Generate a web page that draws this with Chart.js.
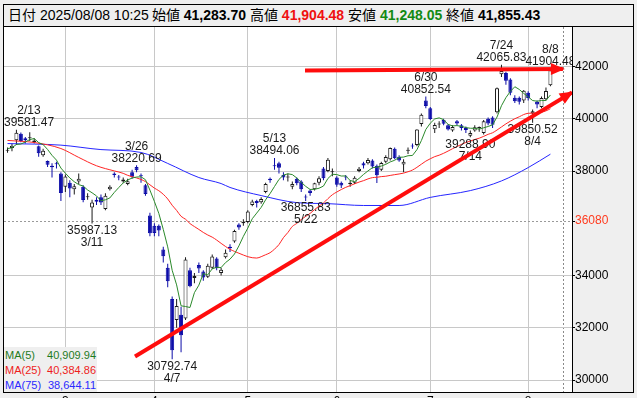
<!DOCTYPE html>
<html lang="ja">
<head>
<meta charset="utf-8">
<title>日経平均 日足</title>
<script src="https://cdn.jsdelivr.net/npm/chart.js@4.4.1/dist/chart.umd.min.js"></script>
<style>
  html, body { margin: 0; padding: 0; background: #efefef; }
  #wrap { position: relative; width: 637px; height: 398px; overflow: hidden; }
  #chart { position: absolute; left: 0; top: 0; }
  #head {
    position: absolute; left: 3px; top: 4px; width: 631px; height: 23px;
    box-sizing: border-box; border: 1px solid #000; background: #efefef;
    font: 14px "Liberation Sans", Arial, "Noto Sans CJK JP", sans-serif;
    line-height: 21px; padding-left: 4px; white-space: nowrap; color: #000;
  }
  #head .gap { display: inline-block; width: 3px; }
  #head .hi { color: #f01010; }
  #head .lo { color: #138a13; }
  #legend {
    position: absolute; left: 4px; top: 347px; width: 93px; height: 45px;
    background: #efefef; font: 11px "Liberation Sans", Arial, sans-serif;
  }
  #legend div { display: flex; justify-content: space-between; height: 14px; line-height: 14px; padding: 1px 1px 0; }
</style>
</head>
<body>
<div id="wrap">
  <canvas id="chart" width="637" height="398"></canvas>
  <div id="head"></div>
  <div id="legend"></div>
</div>
<script>
// ---------------------------------------------------------------------------
// Nikkei 225 daily candles, 2025/02/10 - 2025/08/08, with MA(5/25/75)
// values
// ---------------------------------------------------------------------------

const stamp = '2025/08/08 10:25';

const dates = [
  '2/10','2/12','2/13','2/14','2/17','2/18','2/19','2/20','2/21','2/25','2/26','2/27','2/28',
  '3/3','3/4','3/5','3/6','3/7','3/10','3/11','3/12','3/13','3/14','3/17','3/18','3/19','3/21','3/24','3/25','3/26','3/27','3/28','3/31',
  '4/1','4/2','4/3','4/4','4/7','4/8','4/9','4/10','4/11','4/14','4/15','4/16','4/17','4/18','4/21','4/22','4/23','4/24','4/25','4/28','4/30',
  '5/1','5/2','5/7','5/8','5/9','5/12','5/13','5/14','5/15','5/16','5/19','5/20','5/21','5/22','5/23','5/26','5/27','5/28','5/29','5/30',
  '6/2','6/3','6/4','6/5','6/6','6/9','6/10','6/11','6/12','6/13','6/16','6/17','6/18','6/19','6/20','6/23','6/24','6/25','6/26','6/27','6/30',
  '7/1','7/2','7/3','7/4','7/7','7/8','7/9','7/10','7/11','7/14','7/15','7/16','7/17','7/18','7/22','7/23','7/24','7/25','7/28','7/29','7/30','7/31',
  '8/1','8/4','8/5','8/6','8/7','8/8'
];

const opens = [
  38780, 38880, 39180, 39430, 39250, 39250, 39100, 38950, 38600, 38380, 38200, 38280, 37900,
  37400, 37550, 37300, 37600, 37400, 37000, 36600, 36900, 37000, 36550, 37300, 37900, 37760, 37600, 37500, 37950, 38150, 37800, 37450, 36300,
  35900, 35900, 35000, 34300, 33100, 32300, 32500, 32350, 34200, 33900, 34400, 34150, 33950, 34300, 34650, 34100, 34700, 35100, 35300, 35950, 36000,
  36050, 36700, 36850, 36800, 37200, 37700, 38200, 38300, 37850, 37750, 37400, 37700, 37600, 37000, 37250, 37300, 37550, 38100, 38000, 37950,
  37750, 37550, 37750, 37500, 37550, 38000, 38300, 38300, 38400, 38200, 38050, 38350, 38450, 38850, 38550, 38250, 38780, 38950, 39000, 39800, 40700,
  40400, 39600, 39780, 39950, 39750, 39550, 39900, 39750, 39650, 39350, 39550, 39650, 39450, 40000, 40050, 40250, 41700, 41750, 41500, 40800, 40800, 40700,
  41000, 40200, 40650, 40450, 40750, 41283.70
];

const highs = [
  38900, 39050, 39581.47, 39470, 39300, 39480, 39250, 38980, 38850, 38400, 38300, 38350, 37950,
  37870, 37650, 37500, 37900, 37450, 37150, 36900, 37000, 37100, 37150, 37450, 37950, 37850, 37750, 37700, 38050, 38220.69, 37900, 37500, 36400,
  36000, 35950, 35100, 34450, 33200, 33100, 32800, 34700, 34300, 34100, 34500, 34200, 34450, 34800, 34700, 34300, 35000, 35200, 35750, 36000, 36150,
  36500, 36900, 36900, 37000, 37550, 37750, 38494.06, 38350, 37950, 37900, 37600, 37750, 37650, 37100, 37300, 37550, 37800, 38150, 38500, 38100,
  37800, 37600, 37850, 37650, 37800, 38150, 38350, 38500, 38450, 38250, 38350, 38600, 38900, 38900, 38600, 38450, 38900, 39050, 39600, 40200, 40852.54,
  40450, 39850, 39900, 40000, 39800, 39750, 39950, 39800, 39700, 39550, 39750, 39700, 39950, 40050, 40100, 41200, 42065.83, 41800, 41550, 40900, 40850, 41100,
  41050, 40350, 40700, 40850, 41200, 41904.48
];

const lows = [
  38700, 38760, 39000, 39100, 39050, 39150, 39050, 38550, 38550, 38150, 37750, 38100, 36856,
  37200, 37000, 37100, 37500, 36800, 36900, 35987.13, 36700, 36700, 36500, 37250, 37750, 37650, 37550, 37450, 37700, 37950, 37550, 37050, 35500,
  35500, 35500, 34500, 33550, 30792.74, 32000, 31064, 32300, 33550, 33700, 34100, 33800, 33900, 34250, 34200, 34000, 34650, 34900, 35250, 35750, 35900,
  36000, 36650, 36600, 36750, 37150, 37550, 38050, 37900, 37650, 37600, 37300, 37450, 37200, 36855.83, 37050, 37250, 37450, 37650, 37950, 37800,
  37400, 37350, 37650, 37400, 37500, 37950, 38100, 38250, 38100, 37540, 38000, 38300, 38400, 38450, 38350, 37950, 38650, 38850, 38950, 39700, 40400,
  39950, 39450, 39650, 39750, 39550, 39500, 39750, 39550, 39450, 39288.90, 39500, 39500, 39400, 39750, 39650, 40200, 41600, 41300, 40900, 40600, 40550, 40600,
  40700, 39850.52, 40400, 40400, 40700, 41248.05
];

const closes = [
  38801, 38963, 39461, 39149, 39174, 39270, 39164, 38678, 38776, 38237, 38142, 38256, 37155,
  37785, 37331, 37418, 37704, 36887, 37028, 36793, 36819, 36790, 37053, 37396, 37845, 37751, 37677, 37608, 37780, 38027, 37799, 37120, 35617,
  35624, 35725, 34735, 33780, 31136, 32831, 31714, 34609, 33585, 33982, 34267, 33920, 34377, 34730, 34280, 34220, 34868, 35039, 35705, 35839, 36045,
  36452, 36830, 36780, 36928, 37503, 37644, 38183, 38128, 37755, 37753, 37498, 37529, 37298, 36985, 37160, 37531, 37724, 37722, 38432, 37965,
  37470, 37446, 37747, 37554, 37741, 38088, 38211, 38421, 38173, 37834, 38311, 38536, 38885, 38488, 38403, 38354, 38790, 38942, 39584, 40150, 40487,
  39986, 39762, 39785, 39810, 39587, 39688, 39821, 39646, 39569, 39459, 39678, 39663, 39901, 39819, 39774, 41171, 41826, 41456, 40998, 40674, 40654, 41069,
  40799, 40290, 40549, 40794, 41059, 41855.43
];

// moving averages, one value per day (null where not read)
const ma5 = [
  38857, 38890, 39016, 39032, 39110, 39203, 39244, 39087, 39012, 38825, 38599, 38418, 38113,
  37915, 37734, 37589, 37479, 37425, 37274, 37166, 37046, 36863, 36897, 36970, 37181, 37367, 37544, 37655, 37732, 37769, 37778, 37667, 37269,
  36837, 36377, 35764, 35096, 34200, 33641, 32839, 32814, 32775, 33344, 33631, 34073, 34026, 34255, 34315, 34305, 34495, 34627, 34822, 35134, 35499,
  35816, 36174, 36389, 36607, 36899, 37137, 37408, 37677, 37843, 37893, 37863, 37733, 37567, 37413, 37294, 37301, 37340, 37424, 37714, 37875,
  37863, 37807, 37812, 37636, 37592, 37715, 37868, 38003, 38127, 38145, 38190, 38255, 38348, 38411, 38525, 38533, 38584, 38595, 38815, 39164, 39591,
  39830, 39994, 40034, 39966, 39786, 39726, 39738, 39710, 39662, 39637, 39635, 39603, 39654, 39704, 39767, 40066, 40498, 40809, 41045, 41225, 41122, 40970,
  40839, 40697, 40672, 40700, 40698, 40909.94
];

const ma25 = [
  39170, null, null, null, null, null, 39090, null, null, null, null, null, 38860,
  null, null, null, 38520, null, null, null, 38200, null, null, null, 38003, 37961, 37910, 37835, 37781, 37735, 37676, 37594, 37472,
  37346, 37245, 37109, 36930, 36689, 36491, 36266, 36154, 35989, 35873, 35763, 35648, 35550, 35468, 35357, 35230, 35110, 35002, 34923, 34852, 34783,
  34720, 34681, 34668, 34720, 34795, 34872, 35010, 35184, 35449, 35645, 35877, 35994, 36142, 36262, 36378, 36522, 36656, 36776, 36942, 37092,
  37196, 37292, 37374, 37442, 37510, 37576, 37631, 37697, 37746, 37760, 37786, 37800, 37831, 37860, 37886, 37920, 37971, 38037, 38140, 38260, 38378,
  38469, 38550, 38605, 38678, 38763, 38853, 38936, 39019, 39092, 39147, 39206, 39256, 39325, 39404, 39463, 39568, 39686, 39804, 39908, 40001, 40076, 40161,
  40209, 40215, 40217, 40250, 40302, 40384.86
];

const ma75Days = ['2/10', '2/28', '3/13', '3/27', '4/4', '4/15', '4/22', '4/24', '5/8',
                  '5/20', '5/29', '6/10', '6/20', '7/1', '7/14', '7/24', '8/1', '8/8'];
const ma75 = [39050, 38990, 38820, 38710, 38290, 37750, 37520, 37370, 37060,
              36790, 36750, 36680, 36680, 36990, 37250, 37620, 38130, 38644.11];

// axis
const yTicks = [30000, 32000, 34000, 36080, 38000, 40000, 42000];
const markLevel = 36080;
const monthStarts = ['3/3', '4/1', '5/1', '6/2', '7/1', '8/1'];
const monthNames = ['3', '4', '5', '6', '7', '8'];
const cursorSlot = 125;           // dotted vertical line after the last day

// labelled swing highs / lows
const peakDays = ['2/13', '3/26', '5/13', '6/30', '7/24', '8/8'];
const troughDays = ['3/11', '4/7', '5/22', '7/14', '8/4'];

// the two hand-drawn red arrows, as [day index, price]
const flatLine = [[66.85, 41847], [124.8, 41904]];
const riseLine = [[28.65, 30899], [126.85, 41005]];

// --- helpers ---------------------------------------------------------------

const FONT = '"Liberation Sans", Arial, sans-serif';
const BLUE = '#0c0ca8';
const up = (i) => closes[i] >= opens[i];
const fmt = (v) => v.toLocaleString('en-US', { minimumFractionDigits: 2, maximumFractionDigits: 2 });
const monthIdx = monthStarts.map((d) => dates.indexOf(d));
const isMark = (c) => !!(c.tick && c.tick.value === markLevel);
const isCursor = (c) => !!(c.tick && c.tick.value === cursorSlot);

const perDay = (arr) => arr.map((v, i) => (v == null ? null : { x: i, y: v })).filter(Boolean);

// --- plugins ---------------------------------------------------------------

// grey surround, white plot, black frame
const frame = {
  id: 'frame',
  beforeDraw(chart) {
    const { ctx, chartArea: a, width, height } = chart;
    ctx.save();
    ctx.fillStyle = '#efefef';
    ctx.fillRect(0, 0, width, height);
    ctx.fillStyle = '#fff';
    ctx.fillRect(a.left, a.top, a.right - a.left, a.bottom - a.top);
    ctx.restore();
  },
  afterDraw(chart) {
    const { ctx, chartArea: a } = chart;
    ctx.save();
    ctx.strokeStyle = '#000';
    ctx.lineWidth = 1;
    ctx.strokeRect(a.left - 0.5, a.top - 0.5, a.right - a.left + 1, a.bottom - a.top + 1);
    ctx.strokeRect(a.right + 0.5, a.top - 2.5, 61, a.bottom - a.top + 3);
    ctx.restore();
  },
};

// date + price text at each swing point; drawn just before the red arrows
const swingLabels = {
  id: 'swingLabels',
  beforeDatasetsDraw(chart) { chart.$swingDone = false; },
  beforeDatasetDraw(chart, args) {
    if (chart.$swingDone || !chart.data.datasets[args.index].arrow) return;
    chart.$swingDone = true;
    const { ctx, chartArea: a, scales: { x, y } } = chart;
    ctx.save();
    ctx.beginPath();
    ctx.rect(a.left, a.top, a.right - a.left, a.bottom - a.top);
    ctx.clip();
    ctx.font = '12px ' + FONT;
    ctx.fillStyle = '#1a1a1a';
    ctx.textAlign = 'center';
    ctx.textBaseline = 'middle';
    const block = (day, price, above) => {
      const px = x.getPixelForValue(dates.indexOf(day));
      const py = y.getPixelForValue(price);
      const val = price.toFixed(2);
      const w = Math.max(ctx.measureText(val).width, ctx.measureText(day).width);
      const cx = Math.max(px, a.left + w / 2);
      const s = above ? -1 : 1;
      ctx.fillText(val, cx, py + s * 7);
      ctx.fillText(day, cx, py + s * 19);
    };
    peakDays.forEach((d) => block(d, highs[dates.indexOf(d)], true));
    troughDays.forEach((d) => block(d, lows[dates.indexOf(d)], false));
    ctx.restore();
  },
};

// arrowheads on the red lines
const arrowHeads = {
  id: 'arrowHeads',
  afterDatasetDraw(chart, args) {
    const ds = chart.data.datasets[args.index];
    if (!ds.arrow) return;
    const { ctx, chartArea: a } = chart;
    const pts = args.meta.data;
    const p = pts[pts.length - 1], q = pts[pts.length - 2];
    const ang = Math.atan2(p.y - q.y, p.x - q.x);
    ctx.save();
    ctx.beginPath();
    ctx.rect(a.left, a.top, a.right - a.left, a.bottom - a.top);
    ctx.clip();
    ctx.translate(p.x, p.y);
    ctx.rotate(ang);
    ctx.beginPath();
    ctx.moveTo(2, 0);
    ctx.lineTo(-12, -6);
    ctx.lineTo(-12, 6);
    ctx.closePath();
    ctx.fillStyle = ds.borderColor;
    ctx.fill();
    ctx.restore();
  },
};

// --- chart -----------------------------------------------------------------

Chart.defaults.font.family = FONT;

const days = dates.map((_, i) => i);

new Chart(document.getElementById('chart'), {
  type: 'bar',
  data: {
    datasets: [
      { type: 'line', label: 'flat', arrow: true, data: flatLine.map(([x, y]) => ({ x, y })),
        borderColor: '#ff0d0d', borderWidth: 4, pointRadius: 0, clip: 0, order: -1 },
      { type: 'line', label: 'rise', arrow: true, data: riseLine.map(([x, y]) => ({ x, y })),
        borderColor: '#ff0d0d', borderWidth: 4, pointRadius: 0, clip: 0, order: -1 },
      { type: 'line', label: 'MA(5)', data: perDay(ma5),
        borderColor: '#2b8a2b', borderWidth: 1, pointRadius: 0, order: 0 },
      { type: 'line', label: 'MA(25)', data: perDay(ma25),
        borderColor: '#ff2525', borderWidth: 1, pointRadius: 0, cubicInterpolationMode: 'monotone', order: 0 },
      { type: 'line', label: 'MA(75)', data: ma75Days.map((d, k) => ({ x: dates.indexOf(d), y: ma75[k] })),
        borderColor: '#2626ff', borderWidth: 1, pointRadius: 0, cubicInterpolationMode: 'monotone', order: 0 },
      { label: 'body', data: days.map((i) => ({ x: i, y: [opens[i], closes[i]] })),
        barThickness: 4, grouped: false, minBarLength: 1, inflateAmount: 0,
        borderWidth: 1, borderSkipped: false,
        backgroundColor: (c) => (up(c.dataIndex) ? '#fff' : BLUE),
        borderColor: (c) => (up(c.dataIndex) ? '#1a1a1a' : BLUE), order: 1 },
      { label: 'wick', data: days.map((i) => ({ x: i, y: [lows[i], highs[i]] })),
        barThickness: 1, grouped: false, inflateAmount: 0, borderWidth: 0,
        backgroundColor: (c) => (up(c.dataIndex) ? '#1a1a1a' : BLUE), order: 2 },
    ],
  },
  options: {
    responsive: false,
    maintainAspectRatio: false,
    animation: false,
    devicePixelRatio: 1,
    events: [],
    layout: { padding: { left: 4, right: 4, top: 27, bottom: 0 } },
    plugins: { legend: { display: false }, tooltip: { enabled: false } },
    scales: {
      x: {
        type: 'linear', min: -0.79, max: 126.85, offset: false,
        afterBuildTicks: (s) => { s.ticks = monthIdx.concat(cursorSlot).map((v) => ({ value: v })); },
        afterFit: (s) => { s.height = 6; s.paddingLeft = 0; s.paddingRight = 0; },
        grid: { offset: false, drawTicks: false, color: (c) => (isCursor(c) ? '#8a8a8a' : '#c8c8c8') },
        border: { display: false, dash: (c) => (isCursor(c) ? [2, 2] : []) },
        ticks: {
          autoSkip: false, maxRotation: 0, padding: 2, color: '#000', font: { size: 12 },
          callback: (v) => { const k = monthIdx.indexOf(v); return k >= 0 ? monthNames[k] : ''; },
        },
      },
      y: {
        type: 'linear', position: 'right', min: 29541, max: 43512, beginAtZero: false,
        afterBuildTicks: (s) => { s.ticks = yTicks.map((v) => ({ value: v })); },
        afterFit: (s) => { s.width = 61; s.paddingTop = 0; s.paddingBottom = 0; },
        grid: { color: (c) => (isMark(c) ? '#9a9a9a' : '#c8c8c8'), drawTicks: true, tickLength: 3, tickColor: '#000' },
        border: { display: false, dash: (c) => (isMark(c) ? [2, 2] : []) },
        ticks: {
          autoSkip: false, padding: 0, font: { size: 12 },
          color: (c) => (isMark(c) ? '#ff3b1f' : '#000'),
          callback: (v) => String(v),
        },
      },
    },
  },
  plugins: [frame, swingLabels, arrowHeads],
});

// --- header and MA legend ----------------------------------------------------

const last = dates.length - 1;
document.getElementById('head').innerHTML =
  `日付 ${stamp}<span class="gap"></span>始値 <b>${fmt(opens[last])}</b> ` +
  `高値 <b class="hi">${fmt(highs[last])}</b> 安値 <b class="lo">${fmt(lows[last])}</b> ` +
  `終値 <b>${fmt(closes[last])}</b>`;

const legendRows = [['MA(5)', ma5, '#1e7b1e'], ['MA(25)', ma25, '#ee1c1c'], ['MA(75)', ma75, '#2a2aff']];
document.getElementById('legend').innerHTML = legendRows.map(([name, arr, col]) =>
  `<div style="color:${col}"><span>${name}</span><span>${fmt(arr[arr.length - 1])}</span></div>`).join('');
</script>
</body>
</html>
